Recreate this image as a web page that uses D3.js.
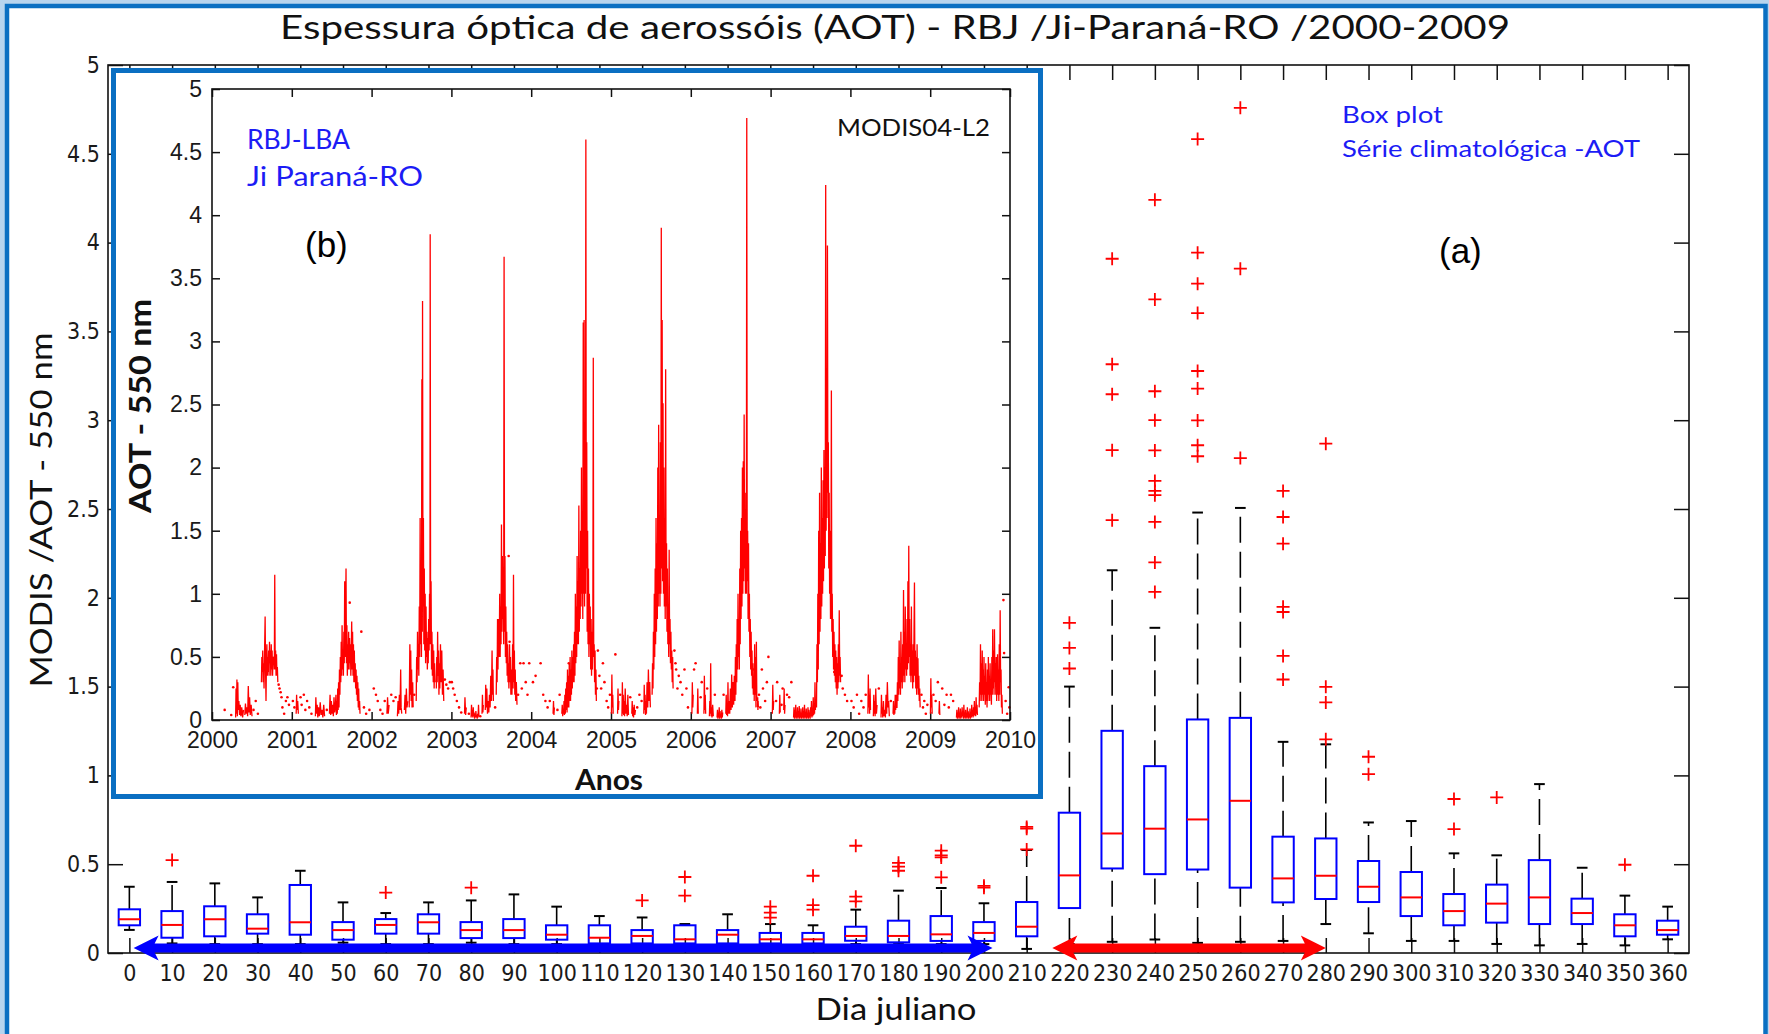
<!DOCTYPE html>
<html>
<head>
<meta charset="utf-8">
<script src="https://cdn.jsdelivr.net/npm/d3@7"></script>
<style>
  body { margin: 0; background: #fff; }
  svg { display: block; }
</style>
</head>
<body>
<div id="container"></div>
<script>
/* DATA - box plot (a), Julian day classes */
const days = [0,10,20,30,40,50,60,70,80,90,100,110,120,130,140,150,160,170,180,190,200,210,220,230,240,250,260,270,280,290,300,310,320,330,340,350,360];
const whiskLow  = [0.13,0.054,0.05,0.05,0.05,0.058,0.05,0.05,0.058,0.05,0.05,0.04,0.04,0.05,0.04,0.04,0.04,0.05,0.05,0.05,0.05,0.023,0.05,0.063,0.076,0.057,0.063,0.068,0.163,0.111,0.068,0.068,0.051,0.043,0.051,0.043,0.077];
const q1        = [0.156,0.086,0.094,0.109,0.103,0.075,0.109,0.109,0.084,0.084,0.075,0.054,0.054,0.054,0.054,0.054,0.054,0.069,0.06,0.068,0.068,0.094,0.253,0.476,0.444,0.47,0.368,0.285,0.304,0.287,0.208,0.156,0.171,0.163,0.163,0.094,0.103];
const median    = [0.19,0.158,0.19,0.137,0.173,0.129,0.158,0.173,0.129,0.129,0.103,0.086,0.096,0.077,0.103,0.077,0.077,0.096,0.096,0.105,0.113,0.148,0.437,0.673,0.70,0.752,0.857,0.42,0.435,0.373,0.313,0.236,0.278,0.313,0.225,0.156,0.129];
const q3        = [0.246,0.236,0.263,0.218,0.383,0.174,0.191,0.218,0.174,0.191,0.156,0.156,0.129,0.156,0.129,0.113,0.113,0.148,0.182,0.208,0.174,0.287,0.79,1.251,1.052,1.315,1.324,0.655,0.645,0.518,0.456,0.332,0.385,0.523,0.306,0.218,0.182];
const whiskHigh = [0.373,0.40,0.392,0.313,0.463,0.285,0.225,0.285,0.296,0.33,0.261,0.208,0.20,0.163,0.218,0.163,0.156,0.244,0.351,0.366,0.28,0.58,1.50,2.155,1.831,2.48,2.506,1.189,1.175,0.735,0.743,0.561,0.55,0.951,0.48,0.323,0.261];
const outliers = [
  [],[0.523],[],[],[],[],[0.34],[],[0.368],[],[],[],[0.296],[0.323,0.428],[],
  [0.199,0.227,0.261],[0.244,0.27,0.435],[0.291,0.317,0.604],[0.463,0.486,0.508],
  [0.426,0.538,0.55,0.576],[0.368,0.378],[0.583,0.70,0.71],[1.602,1.718,1.859],
  [2.437,2.831,3.146,3.315,3.909],
  [2.033,2.199,2.427,2.578,2.602,2.658,2.83,3.0,3.163,3.68,4.241],
  [2.797,2.859,2.999,3.178,3.277,3.603,3.769,3.943,4.583],
  [2.787,3.853,4.759],
  [1.54,1.673,1.92,1.949,2.305,2.455,2.602],
  [1.203,1.411,1.499,2.868],
  [1.007,1.105],[],[0.698,0.867],[0.876],[],[],[0.497],[]
];
const yTicks = [0,0.5,1,1.5,2,2.5,3,3.5,4,4.5,5];
// period arrows (day ranges)
const arrows = [
  {from: 1, to: 202, color: "#0000ff"},
  {from: 216, to: 280, color: "#ff0000"}
];

/* DATA - daily AOT series (b): [day of year, AOT], null = gap */
const aot2000 = [[108,0.02],[110,0.25],[112,0.05],[114,0.32],[116,0.03],[118,0.3],[120,0.08],[123,0.15],[126,0.04],[129,0.12],[132,0.03],[136,0.1],[140,0.02],[144,0.08],null,
  [150,0.04],[153,0.13],[156,0.05],[160,0.1],[163,0.03],[166,0.27],[169,0.06],[172,0.18],[175,0.04],[179,0.12],[183,0.03],null,
  [226,0.3],[228,0.5],[230,0.38],[232,0.55],[234,0.3],[236,0.45],[238,0.25],[240,0.5],[243,0.82],[245,0.4],[247,0.15],[249,0.45],[251,0.6],[253,0.35],[255,0.5],[257,0.38],[259,0.55],[261,0.35],[263,0.62],[265,0.45],[267,0.55],[269,0.35],[271,0.6],[273,0.4],[275,0.55],[277,0.35],[279,0.5],[281,0.45],[283,0.5],[285,0.4],[287,1.15],[289,0.4],[291,0.55],[293,0.35],[295,0.52],[297,0.35],[299,0.42],[301,0.3]];
const dots2000 = [[58,0.08],[88,0.04],[97,0.26],[190,0.08],[200,0.15],[210,0.05],[305,0.28],[309,0.25],[314,0.22],[318,0.18],[322,0.1],[330,0.05],[338,0.15],[345,0.18],[352,0.12]];

const aot2001 = [[20,0.05],[22,0.2],[24,0.08],[27,0.15],[30,0.05],null,
  [108,0.03],[110,0.18],[113,0.05],[116,0.12],[119,0.02],[122,0.1],[126,0.03],[130,0.14],[134,0.04],[138,0.08],[142,0.02],[146,0.12],[150,0.03],null,
  [172,0.05],[175,0.2],[178,0.04],[181,0.15],[184,0.05],[187,0.12],[190,0.03],[193,0.18],[196,0.06],[199,0.1],[202,0.2],[204,0.04],[206,0.15],[208,0.05],[210,0.25],[212,0.08],[214,0.3],[216,0.1],[218,0.4],[220,0.2],[222,0.5],[224,0.3],[226,0.62],[228,0.35],[230,0.75],[232,0.4],[234,0.55],[236,0.35],[238,0.7],[240,0.45],[242,1.1],[244,0.5],[246,0.8],[248,1.2],[250,0.45],[252,0.75],[254,0.35],[256,0.6],[258,0.4],[260,0.7],[262,0.4],[264,0.65],[266,0.45],[268,0.6],[270,0.35],[272,0.55],[274,0.78],[276,0.4],[278,0.7],[280,0.35],[282,0.6],[284,0.3],[286,0.55],[288,0.3],[290,0.45],[292,0.25],[294,0.4],[296,0.2],[298,0.35],[300,0.15],[302,0.3],[304,0.1],[306,0.25],[308,0.08],[310,0.15],[312,0.05]];
const dots2001 = [[5,0.15],[12,0.1],[40,0.18],[45,0.12],[55,0.2],[62,0.08],[70,0.15],[80,0.1],[90,0.05],[160,0.08],[265,0.93],[284,0.42],[318,0.7],[330,0.1],[340,0.05],[355,0.08]];

const aot2002 = [[70,0.05],[73,0.18],[76,0.05],[80,0.12],null,
  [118,0.03],[121,0.15],[124,0.05],[127,0.2],[130,0.08],[133,0.4],[135,0.1],[138,0.05],null,
  [150,0.08],[153,0.2],[156,0.05],[159,0.25],[162,0.1],[165,0.15],null,
  [172,0.1],[175,0.6],[177,0.2],[179,0.55],[181,0.15],[183,0.4],[185,0.1],[188,0.3],[190,0.1],null,
  [204,0.15],[206,0.5],[208,0.3],[210,0.7],[212,0.4],[214,0.6],[216,0.35],[218,0.9],[220,0.5],[222,1.6],[224,0.6],[226,1.2],[228,0.5],[230,2.7],[232,0.7],[233,3.32],[235,0.9],[237,1.6],[239,0.6],[241,1.2],[243,0.55],[245,1.0],[247,0.45],[249,0.9],[251,0.5],[253,0.7],[255,0.4],[257,0.65],[259,0.45],[261,0.8],[263,0.55],[265,1.0],[267,0.6],[268,3.85],[270,0.6],[272,1.1],[274,0.4],[276,0.7],[278,0.35],[280,0.6],[282,0.3],[284,0.55],[286,0.25],[288,0.45],[290,0.3],null,
  [296,0.25],[298,0.5],[300,0.3],[302,0.7],[304,0.35],[306,0.55],[308,0.2],[310,0.45],[312,0.25],[315,0.6],[318,0.3],[321,0.55],[324,0.2],[327,0.4],[330,0.15]];
const dots2002 = [[10,0.25],[20,0.2],[28,0.15],[40,0.08],[50,0.05],[60,0.15],[90,0.2],[100,0.15],[110,0.18],[195,0.2],[335,0.32],[342,0.28],[350,0.25],[358,0.3]];

const aot2003 = [[60,0.05],[62,0.18],[65,0.04],[68,0.1],null,
  [90,0.02],[92,0.12],[94,0.03],[96,0.08],[98,0.02],[100,0.1],[102,0.03],[104,0.06],[106,0.01],[108,0.05],[110,0.02],[112,0.07],[114,0.02],[116,0.04],[118,0.01],[120,0.05],[122,0.02],[124,0.12],[126,0.03],null,
  [140,0.05],[142,0.2],[144,0.06],[146,0.12],null,
  [155,0.08],[157,0.28],[159,0.1],[162,0.25],[165,0.05],[168,0.15],[171,0.06],[174,0.2],[177,0.1],[180,0.35],[183,0.15],[186,0.55],[188,0.2],[190,0.4],[192,0.15],null,
  [205,0.2],[207,0.5],[209,0.3],[211,0.8],[213,0.4],[215,0.8],[217,0.5],[219,0.6],[221,1.0],[223,0.5],[225,0.9],[227,0.6],[229,1.55],[231,0.7],[233,1.3],[235,0.8],[237,1.0],[239,0.6],[241,3.67],[243,0.7],[245,1.3],[247,0.5],[249,0.9],[251,0.45],[253,0.7],[255,0.35],[257,0.6],[259,0.3],[261,0.45],[263,0.25],[266,0.6],[268,0.3],[270,0.5],[272,0.2],[275,0.4],[277,0.2],[280,0.6],[282,0.25],[284,1.15],[286,0.3],[288,0.55],[290,0.2],[292,0.4],[294,0.15],[297,0.3],[300,0.12]];
const dots2003 = [[2,0.3],[8,0.25],[15,0.2],[25,0.15],[35,0.1],[45,0.06],[80,0.05],[132,0.03],[200,0.1],[262,1.3],[266,0.62],[305,0.2],[315,0.45],[322,0.25],[330,0.45],[340,0.3],[348,0.2],[356,0.45]];

const aot2004 = [[100,0.05],[102,0.15],[104,0.04],[106,0.1],null,
  [140,0.05],[142,0.12],[144,0.03],[146,0.08],[148,0.05],[150,0.15],[152,0.04],[154,0.2],[156,0.05],[158,0.25],[160,0.08],[162,0.3],[164,0.06],[166,0.4],[168,0.1],[170,0.35],[172,0.1],[174,0.45],[176,0.15],[178,0.5],[180,0.15],[182,0.4],[184,0.2],[186,0.55],[188,0.25],[190,0.5],[192,0.3],[194,0.6],[196,0.3],[198,0.7],[200,0.35],[202,1.0],[204,0.45],[206,0.9],[208,0.5],[210,1.3],[212,0.6],[214,1.1],[216,0.6],[218,1.7],[220,0.7],[222,1.2],[224,0.8],[226,1.5],[228,0.9],[230,2.0],[232,1.0],[234,1.4],[236,0.8],[238,3.15],[240,1.0],[242,3.17],[244,0.9],[246,2.0],[248,1.0],[250,4.6],[252,1.2],[254,2.2],[256,0.7],[258,1.5],[260,0.6],[262,1.2],[264,0.5],[266,1.0],[268,0.6],[270,0.9],[272,0.4],[274,0.8],[276,0.35],[278,0.7],[280,0.4],[282,0.8],[284,2.87],[286,0.5],[288,0.6],[290,0.3],[292,0.55],[294,0.2],[296,0.4],[298,0.15]];
const dots2004 = [[8,0.3],[20,0.35],[43,0.45],[55,0.2],[65,0.15],[75,0.1],[85,0.15],[120,0.08],[130,0.2],[172,0.45],[300,0.25],[305,0.55],[312,0.35],[320,0.25],[328,0.45],[335,0.3],[345,0.15],[352,0.1],[360,0.2]];

const aot2005 = [[2,0.05],[4,0.36],[6,0.1],[8,0.2],[10,0.05],null,
  [30,0.05],[32,0.25],[34,0.08],[36,0.15],null,
  [50,0.03],[52,0.3],[54,0.05],[56,0.2],[58,0.04],[60,0.15],[62,0.03],[65,0.25],[68,0.05],[71,0.12],[74,0.03],[77,0.2],[80,0.04],null,
  [95,0.05],[97,0.15],[99,0.03],[101,0.1],[103,0.02],[106,0.12],[109,0.04],[112,0.08],null,
  [150,0.05],[152,0.28],[154,0.08],[156,0.2],[158,0.04],[160,0.15],[162,0.05],[165,0.3],[168,0.1],[171,0.4],[174,0.15],[177,0.3],[180,0.1],null,
  [188,0.2],[190,0.45],[192,0.25],[194,0.7],[196,0.4],[198,1.0],[200,0.5],[202,1.2],[204,0.6],[206,1.6],[208,0.7],[210,1.4],[212,0.8],[214,2.0],[216,0.9],[218,2.34],[220,1.0],[222,1.6],[224,0.9],[226,2.2],[228,1.0],[230,3.9],[232,1.2],[234,3.17],[236,1.1],[238,2.51],[240,1.0],[242,2.0],[244,0.9],[246,1.6],[248,0.8],[250,2.78],[252,0.9],[254,1.4],[256,0.7],[258,1.2],[260,0.6],[262,0.9],[264,0.5],[266,1.35],[268,0.6],[270,0.8],[272,0.45],[274,0.7],[276,0.4],[278,0.55],[280,0.3],[282,0.5],[284,0.25]];
const dots2005 = [[20,0.52],[42,0.2],[88,0.18],[120,0.1],[130,0.2],[140,0.15],[290,0.55],[295,0.45],[298,0.4],[304,0.25],[310,0.35],[318,0.3],[326,0.2],[336,0.4],[345,0.25],[352,0.1]];

const aot2006 = [[5,0.05],[7,0.3],[9,0.1],[11,0.2],null,
  [30,0.05],[32,0.25],[34,0.05],null,
  [60,0.05],[62,0.35],[64,0.08],[66,0.2],[68,0.05],null,
  [85,0.03],[87,0.15],[89,0.05],[91,0.45],[93,0.03],[95,0.1],[97,0.02],[100,0.12],[103,0.03],null,
  [120,0.02],[122,0.08],[124,0.01],[126,0.06],[128,0.02],[130,0.1],[132,0.01],[134,0.07],[136,0.02],[138,0.05],[140,0.01],[142,0.08],[144,0.02],[146,0.06],null,
  [160,0.05],[162,0.2],[164,0.04],[166,0.12],[168,0.03],[170,0.3],[172,0.05],[175,0.15],[178,0.05],[181,0.25],[184,0.08],[187,0.36],[190,0.1],[193,0.3],[196,0.12],[199,0.35],[202,0.15],[204,0.5],[206,0.2],[208,0.6],[210,0.3],[212,0.8],[214,0.4],[216,1.0],[218,0.5],[220,0.8],[222,0.4],[224,1.2],[226,0.6],[228,1.5],[230,0.8],[232,1.6],[234,0.9],[236,2.0],[238,1.0],[240,2.05],[242,1.1],[244,2.42],[246,1.2],[248,1.8],[250,1.0],[252,1.6],[254,1.0],[256,4.77],[258,1.1],[260,1.5],[262,0.8],[264,1.4],[266,0.7],[268,1.0],[270,0.5],[272,0.8],[274,0.4],[276,0.7],[278,0.35],[280,0.55],[282,0.25],[284,0.45],[286,0.2],null,
  [290,0.15],[292,0.6],[294,0.2],[296,0.5],[298,0.1],[300,0.62],[302,0.15],null,
  [305,0.1],[306,0.18],[307,0.08],[308,0.15],[309,0.1]];
const dots2006 = [[15,0.4],[22,0.45],[45,0.18],[50,0.3],[75,0.25],[110,0.2],[150,0.2],[288,0.4],[312,0.2],[318,0.1],[325,0.4],[330,0.25],[340,0.15],[348,0.3],[355,0.5]];

const aot2007 = [[8,0.05],[10,0.28],[12,0.08],[14,0.15],null,
  [40,0.05],[42,0.2],[44,0.06],null,
  [60,0.08],[62,0.25],[64,0.05],[66,0.12],null,
  [105,0.02],[107,0.1],[109,0.01],[111,0.08],[113,0.02],[115,0.12],[117,0.01],[119,0.06],[121,0.02],[123,0.1],[125,0.01],[127,0.07],[129,0.02],[131,0.11],[133,0.01],[135,0.06],[137,0.02],[139,0.09],[141,0.01],[143,0.05],[145,0.02],[147,0.1],[149,0.01],[151,0.07],[153,0.02],[155,0.12],[157,0.01],[159,0.06],[161,0.02],[163,0.09],[165,0.01],[167,0.05],[169,0.02],[171,0.1],[173,0.01],[175,0.08],[177,0.02],[179,0.06],[181,0.01],[183,0.1],[185,0.03],[187,0.15],[189,0.02],[191,0.08],[193,0.03],[195,0.18],[197,0.04],[199,0.12],[201,0.05],[203,0.3],[205,0.08],null,
  [210,0.1],[212,0.6],[214,0.3],[216,1.0],[218,0.4],[220,1.5],[222,0.6],[224,1.8],[226,0.7],[228,1.4],[230,0.8],[232,2.0],[234,0.9],[236,1.6],[238,1.0],[240,1.9],[242,1.1],[244,2.14],[246,1.2],[248,2.0],[250,1.3],[252,4.24],[254,1.5],[256,2.4],[258,1.6],[260,3.76],[262,1.8],[264,2.2],[266,1.2],[268,1.8],[270,1.0],[272,1.5],[274,0.8],[276,1.1],[278,2.61],[280,0.7],[282,1.0],[284,0.5],[286,0.8],[288,0.4],[290,0.7],[292,0.35],[294,0.6],[296,0.3],[298,0.55],[300,0.25],[302,0.5],[304,0.2],[306,0.45],[308,0.25],[310,0.6],[312,0.3],[314,0.87],[316,0.35],[318,0.5],[320,0.3]];
const dots2007 = [[25,0.15],[30,0.3],[50,0.12],[55,0.25],[75,0.2],[85,0.18],[95,0.3],[291,0.38],[325,0.35],[330,0.25],[340,0.2],[350,0.15]];

const aot2008 = [[80,0.05],[82,0.36],[84,0.1],[86,0.2],[88,0.05],[90,0.25],[92,0.08],null,
  [105,0.03],[107,0.2],[109,0.05],[111,0.15],[113,0.03],[116,0.25],[119,0.05],[122,0.12],null,
  [140,0.02],[142,0.2],[144,0.05],[146,0.1],[148,0.02],[151,0.15],[154,0.03],[157,0.08],[160,0.02],[163,0.2],[166,0.05],[169,0.3],[172,0.1],[175,0.15],[178,0.03],null,
  [195,0.05],[197,0.15],[199,0.04],[201,0.1],[203,0.05],[205,0.2],[207,0.08],[209,0.2],[211,0.1],
  [213,0.1],[215,0.3],[217,0.15],[219,0.5],[221,0.2],[223,0.63],[225,0.25],[227,0.45],[229,0.2],[231,0.7],[233,0.3],[235,0.5],[237,0.25],[239,0.6],[241,0.3],[243,1.03],[245,0.35],[247,0.7],[249,0.3],[251,0.9],[253,0.4],[255,0.6],[257,0.35],[259,0.8],[261,0.4],[263,1.1],[265,0.45],[267,1.38],[269,0.5],[271,0.8],[273,0.35],[275,0.6],[277,0.3],[279,0.9],[281,0.35],[283,0.55],[285,0.25],[287,0.6],[289,0.3],[291,0.7],[293,1.09],[295,0.35],[297,0.55],[299,0.25],[301,0.5],[303,0.2],[305,0.6],[307,0.25],[309,0.49],[311,0.2],[313,0.35],[315,0.15],[317,0.25],[319,0.1]];
const dots2008 = [[5,0.15],[15,0.1],[30,0.2],[40,0.05],[50,0.15],[60,0.1],[70,0.2],[130,0.25],[185,0.15],[325,0.2],[332,0.1],[338,0.15],[345,0.05],[352,0.12]];

const aot2009 = [[1,0.05],[3,0.33],[5,0.1],[7,0.2],[9,0.05],null,
  [40,0.05],[42,0.15],[44,0.04],null,
  [120,0.02],[122,0.08],[124,0.01],[126,0.06],[128,0.02],[130,0.1],[132,0.01],[134,0.05],[136,0.02],[138,0.09],[140,0.01],[142,0.06],[144,0.02],[146,0.1],[148,0.03],[150,0.07],[152,0.01],[154,0.12],[156,0.02],[158,0.06],[160,0.01],[162,0.08],[164,0.02],[166,0.05],[168,0.01],[170,0.1],[172,0.02],[174,0.07],[176,0.01],[178,0.05],[180,0.02],[182,0.09],[184,0.01],[186,0.06],[188,0.02],[190,0.12],[192,0.03],[194,0.08],[196,0.02],[198,0.1],[200,0.03],[202,0.15],[204,0.04],[206,0.1],[208,0.03],[210,0.18],[212,0.05],[214,0.12],[216,0.04],null,
  [224,0.1],[226,0.3],[228,0.15],[230,0.6],[232,0.2],[234,0.45],[236,0.15],[238,0.55],[240,0.2],[242,0.4],[244,0.15],[246,0.5],[248,0.2],[250,0.35],[252,0.12],[254,0.45],[256,0.15],[258,0.3],[260,0.1],[262,0.4],[264,0.15],[266,0.5],[268,0.2],[270,0.35],[272,0.15],[274,0.45],[276,0.2],[278,0.3],[280,0.12],[282,0.5],[284,0.2],[286,0.72],[288,0.25],[290,0.55],[292,0.2],[294,0.72],[296,0.3],[298,0.45],[300,0.2],[302,0.5],[304,0.15],[306,0.35],[308,0.52],[310,0.2],[312,0.4],[314,0.15],[316,0.6],[318,0.2],[320,0.87],[322,0.3],[324,0.4],[326,0.1],[328,0.2],[330,0.05]];
const dots2009 = [[15,0.2],[25,0.15],[35,0.3],[55,0.25],[65,0.12],[75,0.2],[85,0.1],[95,0.2],[105,0.15],[335,0.95],[338,0.53],[345,0.15],[352,0.05],[359,0.26],[362,0.1]];

const seriesYears = [2000,2001,2002,2003,2004,2005,2006,2007,2008,2009];
const seriesLines = [aot2000,aot2001,aot2002,aot2003,aot2004,aot2005,aot2006,aot2007,aot2008,aot2009];
const seriesDots  = [dots2000,dots2001,dots2002,dots2003,dots2004,dots2005,dots2006,dots2007,dots2008,dots2009];
const yearTicks = [2000,2001,2002,2003,2004,2005,2006,2007,2008,2009,2010];

/* CONSTANTS */
const width = 1769, height = 1034;
const narrowFont = "'Liberation Sans Narrow','Arial Narrow','DejaVu Sans Condensed',sans-serif";
const arialFont = "'Liberation Sans',Arial,sans-serif";
const gothicFont = "Lato,'Noto Sans',sans-serif";
const boxBlue = "#0000ff", red = "#ff0000", textBlue = "#1c1cf5";

const svg = d3.select("#container")
  .append("svg")
  .attr("width", width)
  .attr("height", height);

// window frame
svg.append("rect").attr("width", width).attr("height", height).attr("fill", "#b7d4ee");
svg.append("rect")
  .attr("x", 7).attr("y", 6).attr("width", 1758.5).attr("height", 1100)
  .attr("fill", "#fff").attr("stroke", "#0a6fc2").attr("stroke-width", 4.5);

// title
svg.append("text")
  .attr("x", 895).attr("y", 39)
  .attr("text-anchor", "middle")
  .attr("textLength", 1230).attr("lengthAdjust", "spacingAndGlyphs")
  .style("font-family", gothicFont).style("font-size", "33px").attr("fill", "#111")
  .text("Espessura óptica de aerossóis (AOT) - RBJ /Ji-Paraná-RO /2000-2009");

/* MAIN AXES (a) */
const m = {left: 108, right: 1689, top: 65, bottom: 953};
const x = d3.scaleLinear().domain([-5, 365]).range([m.left, m.right]);
const y = d3.scaleLinear().domain([0, 5]).range([m.bottom, m.top]);

const gMain = svg.append("g");

gMain.append("g")
  .attr("transform", `translate(${m.left},0)`)
  .call(d3.axisLeft(y).tickValues(yTicks).tickSize(-15).tickPadding(8).tickFormat(d3.format("~g")))
  .call(g => g.select(".domain").remove());
gMain.append("g")
  .attr("transform", `translate(${m.right},0)`)
  .call(d3.axisRight(y).tickValues(yTicks).tickSize(-15).tickFormat(""))
  .call(g => g.select(".domain").remove());
gMain.append("g")
  .attr("transform", `translate(0,${m.bottom})`)
  .call(d3.axisBottom(x).tickValues(days).tickSize(-15).tickPadding(12).tickFormat(d3.format("d")))
  .call(g => g.select(".domain").remove());
gMain.append("g")
  .attr("transform", `translate(0,${m.top})`)
  .call(d3.axisTop(x).tickValues(days).tickSize(-15).tickFormat(""))
  .call(g => g.select(".domain").remove());

gMain.selectAll(".tick line").attr("stroke", "#111").attr("stroke-width", 1.5);
gMain.selectAll(".tick text")
  .style("font-family", narrowFont).style("font-size", "23px").attr("fill", "#1a1a1a");

gMain.append("rect")
  .attr("x", m.left).attr("y", m.top)
  .attr("width", m.right - m.left).attr("height", m.bottom - m.top)
  .attr("fill", "none").attr("stroke", "#111").attr("stroke-width", 1.6);

// boxes
const rows = days.map((d, i) => ({
  day: d, lo: whiskLow[i], q1: q1[i], med: median[i], q3: q3[i], hi: whiskHigh[i], out: outliers[i]
}));
const halfBox = (x(5) - x(0)) / 2;
const halfCap = (x(2.5) - x(0)) / 2;

const gBox = gMain.append("g").selectAll("g").data(rows).join("g")
  .attr("transform", d => `translate(${x(d.day)},0)`);

gBox.append("line") // upper whisker
  .attr("y1", d => y(d.q3)).attr("y2", d => y(d.hi))
  .attr("stroke", "#000").attr("stroke-width", 1.6).attr("stroke-dasharray", "26,9");
gBox.append("line") // lower whisker
  .attr("y1", d => y(d.lo)).attr("y2", d => y(d.q1))
  .attr("stroke", "#000").attr("stroke-width", 1.6).attr("stroke-dasharray", "26,9");
gBox.append("line")
  .attr("x1", -halfCap).attr("x2", halfCap)
  .attr("y1", d => y(d.hi)).attr("y2", d => y(d.hi))
  .attr("stroke", "#000").attr("stroke-width", 2);
gBox.append("line")
  .attr("x1", -halfCap).attr("x2", halfCap)
  .attr("y1", d => y(d.lo)).attr("y2", d => y(d.lo))
  .attr("stroke", "#000").attr("stroke-width", 2);
gBox.append("rect")
  .attr("x", -halfBox).attr("width", halfBox * 2)
  .attr("y", d => y(d.q3)).attr("height", d => y(d.q1) - y(d.q3))
  .attr("fill", "none").attr("stroke", boxBlue).attr("stroke-width", 2);
gBox.append("line")
  .attr("x1", -halfBox).attr("x2", halfBox)
  .attr("y1", d => y(d.med)).attr("y2", d => y(d.med))
  .attr("stroke", red).attr("stroke-width", 2);
gBox.selectAll("path.out").data(d => d.out).join("path")
  .attr("class", "out")
  .attr("d", v => `M-6.5,${y(v)}H6.5M0,${y(v) - 6.5}V${y(v) + 6.5}`)
  .attr("stroke", red).attr("stroke-width", 1.8).attr("fill", "none");

// period arrows
const arrowY = y(0.028), shaft = 4.5, headL = 25, headH = 12.5;
gMain.selectAll("polygon.arrow").data(arrows).join("polygon")
  .attr("class", "arrow")
  .attr("points", a => {
    const x1 = x(a.from), x2 = x(a.to);
    return [
      [x1, arrowY], [x1 + headL, arrowY - headH], [x1 + headL - 4, arrowY - shaft],
      [x2 - headL + 4, arrowY - shaft], [x2 - headL, arrowY - headH], [x2, arrowY],
      [x2 - headL, arrowY + headH], [x2 - headL + 4, arrowY + shaft],
      [x1 + headL - 4, arrowY + shaft], [x1 + headL, arrowY + headH]
    ].map(p => p.join(",")).join(" ");
  })
  .attr("fill", a => a.color);

// labels (a)
svg.append("text")
  .attr("transform", "translate(52,510) rotate(-90)")
  .attr("text-anchor", "middle")
  .attr("textLength", 355).attr("lengthAdjust", "spacingAndGlyphs")
  .style("font-family", gothicFont).style("font-size", "31px").attr("fill", "#111")
  .text("MODIS /AOT - 550 nm");
svg.append("text")
  .attr("x", 896).attr("y", 1020).attr("text-anchor", "middle")
  .attr("textLength", 161).attr("lengthAdjust", "spacingAndGlyphs")
  .style("font-family", gothicFont).style("font-size", "30px").attr("fill", "#111")
  .text("Dia juliano");
svg.append("text")
  .attr("x", 1342).attr("y", 123)
  .attr("textLength", 101).attr("lengthAdjust", "spacingAndGlyphs")
  .style("font-family", gothicFont).style("font-size", "24px").attr("fill", textBlue)
  .text("Box plot");
svg.append("text")
  .attr("x", 1342).attr("y", 157)
  .attr("textLength", 298).attr("lengthAdjust", "spacingAndGlyphs")
  .style("font-family", gothicFont).style("font-size", "24px").attr("fill", textBlue)
  .text("Série climatológica -AOT");
svg.append("text")
  .attr("x", 1439).attr("y", 263)
  .style("font-family", arialFont).style("font-size", "35px").attr("fill", "#000")
  .text("(a)");

/* INSET (b) */
svg.append("rect")
  .attr("x", 113.5).attr("y", 70.5).attr("width", 927).attr("height", 726)
  .attr("fill", "#fff").attr("stroke", "#0a6fc2").attr("stroke-width", 5);

const ib = {left: 212, right: 1010, top: 89, bottom: 720};
const xt = d3.scaleLinear().domain([2000, 2010]).range([ib.left, ib.right]);
const yt = d3.scaleLinear().domain([0, 5]).range([ib.bottom, ib.top]);

const gIn = svg.append("g");
gIn.append("g")
  .attr("transform", `translate(${ib.left},0)`)
  .call(d3.axisLeft(yt).tickValues(yTicks).tickSize(-8).tickPadding(10).tickFormat(d3.format("~g")))
  .call(g => g.select(".domain").remove());
gIn.append("g")
  .attr("transform", `translate(${ib.right},0)`)
  .call(d3.axisRight(yt).tickValues(yTicks).tickSize(-8).tickFormat(""))
  .call(g => g.select(".domain").remove());
gIn.append("g")
  .attr("transform", `translate(0,${ib.bottom})`)
  .call(d3.axisBottom(xt).tickValues(yearTicks).tickSize(-8).tickPadding(12).tickFormat(d3.format("d")))
  .call(g => g.select(".domain").remove());
gIn.append("g")
  .attr("transform", `translate(0,${ib.top})`)
  .call(d3.axisTop(xt).tickValues(yearTicks).tickSize(-8).tickFormat(""))
  .call(g => g.select(".domain").remove());
gIn.selectAll(".tick line").attr("stroke", "#111").attr("stroke-width", 1.5);
gIn.selectAll(".tick text")
  .style("font-family", arialFont).style("font-size", "23px").attr("fill", "#1a1a1a");

// series
const pts = [];
seriesLines.forEach((arr, i) => {
  arr.forEach(p => pts.push(p ? {t: seriesYears[i] + p[0] / 365, v: p[1]} : null));
  pts.push(null);
});
const dotPts = [];
seriesDots.forEach((arr, i) => arr.forEach(p => dotPts.push({t: seriesYears[i] + p[0] / 365, v: p[1]})));

const line = d3.line()
  .defined(d => d !== null)
  .x(d => xt(d.t))
  .y(d => yt(d.v));

gIn.append("path")
  .datum(pts)
  .attr("d", line)
  .attr("fill", "none").attr("stroke", red).attr("stroke-width", 1.3);
gIn.selectAll("circle").data(dotPts).join("circle")
  .attr("cx", d => xt(d.t)).attr("cy", d => yt(d.v)).attr("r", 1.3)
  .attr("fill", red);

gIn.append("rect")
  .attr("x", ib.left).attr("y", ib.top)
  .attr("width", ib.right - ib.left).attr("height", ib.bottom - ib.top)
  .attr("fill", "none").attr("stroke", "#111").attr("stroke-width", 1.6);

// inset labels
svg.append("text")
  .attr("transform", "translate(151,406) rotate(-90)")
  .attr("text-anchor", "middle")
  .attr("textLength", 214).attr("lengthAdjust", "spacingAndGlyphs")
  .style("font-family", gothicFont).style("font-size", "30px").style("font-weight", "bold").attr("fill", "#111")
  .text("AOT - 550 nm");
svg.append("text")
  .attr("x", 609).attr("y", 790).attr("text-anchor", "middle")
  .attr("textLength", 68).attr("lengthAdjust", "spacingAndGlyphs")
  .style("font-family", gothicFont).style("font-size", "28px").style("font-weight", "bold").attr("fill", "#111")
  .text("Anos");
svg.append("text")
  .attr("x", 837).attr("y", 136)
  .attr("textLength", 153).attr("lengthAdjust", "spacingAndGlyphs")
  .style("font-family", gothicFont).style("font-size", "23px").attr("fill", "#111")
  .text("MODIS04-L2");
svg.append("text")
  .attr("x", 247).attr("y", 149)
  .attr("textLength", 103).attr("lengthAdjust", "spacingAndGlyphs")
  .style("font-family", gothicFont).style("font-size", "26px").attr("fill", textBlue)
  .text("RBJ-LBA");
svg.append("text")
  .attr("x", 247).attr("y", 186)
  .attr("textLength", 176).attr("lengthAdjust", "spacingAndGlyphs")
  .style("font-family", gothicFont).style("font-size", "26px").attr("fill", textBlue)
  .text("Ji Paraná-RO");
svg.append("text")
  .attr("x", 305).attr("y", 257)
  .style("font-family", arialFont).style("font-size", "35px").attr("fill", "#000")
  .text("(b)");
</script>
</body>
</html>
